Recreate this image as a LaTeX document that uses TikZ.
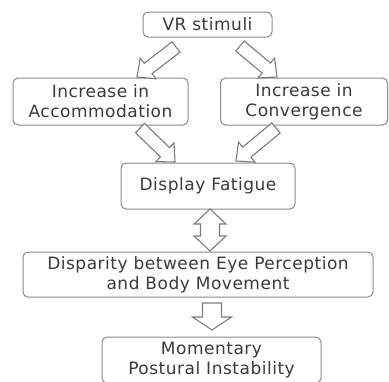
\documentclass[tikz,border=0pt]{standalone}
\usepackage{fontspec}
\setmainfont[LetterSpace=3]{DejaVu Sans}
\usetikzlibrary{calc}
\definecolor{txt}{HTML}{3A3A3A}
\definecolor{edge}{HTML}{8A8A8A}
\tikzset{
  box/.style={draw=edge, line width=1pt, rounded corners=5pt, fill=white,
    text=txt, align=center, inner sep=0pt, font=\fontsize{17}{20}\selectfont},
  blk/.style={draw=edge!90!black, line width=1.1pt, fill=white, line join=miter},
}
% block arrow: from, to, shaft half width, head half width, head length
\newcommand\blockarrow[5]{%
  \draw[blk] ($(#1)!#3!90:(#2)$)
    -- ($(#2)!#5!(#1)!#3!-90:(#1)$)
    -- ($(#2)!#5!(#1)!#4!-90:(#1)$)
    -- (#2)
    -- ($(#2)!#5!(#1)!#4!90:(#1)$)
    -- ($(#2)!#5!(#1)!#3!90:(#1)$)
    -- ($(#1)!#3!-90:(#2)$) -- cycle;}
% double block arrow: end1, end2, shaft half, head half, head length
\newcommand\dblarrow[5]{%
  \draw[blk] (#1)
    -- ($(#1)!#5!(#2)!#4!90:(#2)$)
    -- ($(#1)!#5!(#2)!#3!90:(#2)$)
    -- ($(#2)!#5!(#1)!#3!-90:(#1)$)
    -- ($(#2)!#5!(#1)!#4!-90:(#1)$)
    -- (#2)
    -- ($(#2)!#5!(#1)!#4!90:(#1)$)
    -- ($(#2)!#5!(#1)!#3!90:(#1)$)
    -- ($(#1)!#5!(#2)!#3!-90:(#2)$)
    -- ($(#1)!#5!(#2)!#4!-90:(#2)$)
    -- cycle;}
\begin{document}
\begin{tikzpicture}[x=1pt,y=-1pt]
\useasboundingbox (0,0) rectangle (389,381);
\begin{scope}
\clip (0,0) rectangle (389,381);
\node[box, minimum width=129pt, minimum height=25pt] (vr) at (207.5,24.5) {VR stimuli};
\node[box, minimum width=175pt, minimum height=47pt] (acc) at (100.5,101.5) {Increase in\\Accommodation};
\node[box, minimum width=167pt, minimum height=47pt] (con) at (304,101.5) {Increase in\\Convergence};
\node[box, minimum width=174pt, minimum height=46pt] (fat) at (208,186) {Display Fatigue};
\node[box, minimum width=350pt, minimum height=45pt] (dis) at (198,274.5) {Disparity between Eye Perception\\and Body Movement};
\node[box, minimum width=219pt, minimum height=46pt] (mom) at (211.5,360) {Momentary\\Postural Instability};

\coordinate (a1s) at (176,47);
\coordinate (a1e) at (137,77);
\coordinate (a2s) at (240,46);
\coordinate (a2e) at (277,77);
\coordinate (a3s) at (140,128);
\coordinate (a3e) at (175,162);
\coordinate (a4s) at (276,128);
\coordinate (a4e) at (236,161);
\coordinate (d1) at (210,209);
\coordinate (d2) at (210,251);
\coordinate (a5s) at (212,303);
\coordinate (a5e) at (212,330);

\blockarrow{a1s}{a1e}{6.5pt}{13pt}{14pt}
\blockarrow{a2s}{a2e}{6.5pt}{13pt}{14pt}
\blockarrow{a3s}{a3e}{6.5pt}{13pt}{14pt}
\blockarrow{a4s}{a4e}{6.5pt}{13pt}{14pt}
\dblarrow{d1}{d2}{9.5pt}{16pt}{15pt}
\blockarrow{a5s}{a5e}{9.5pt}{19.5pt}{13pt}
\end{scope}
\end{tikzpicture}
\end{document}
